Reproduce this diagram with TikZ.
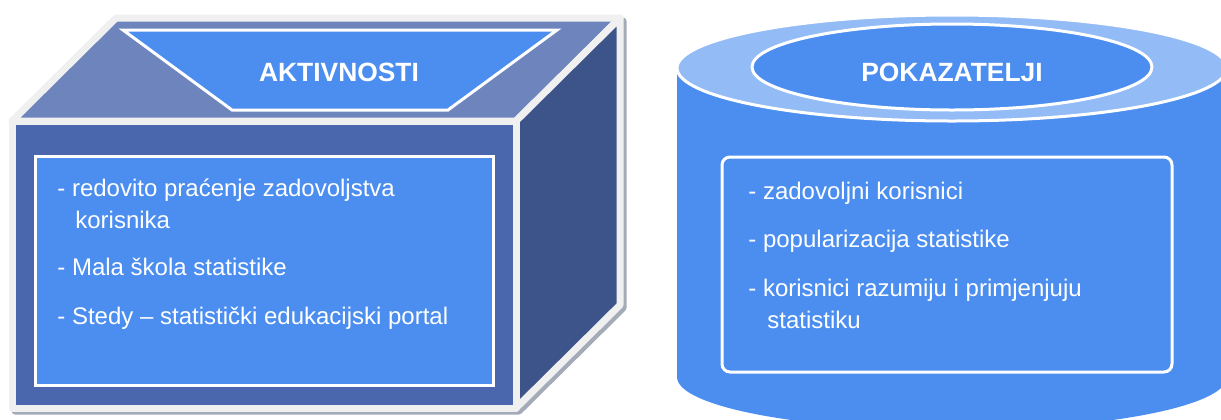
\documentclass[tikz,border=0pt]{standalone}
\usepackage{fontspec}
\setmainfont{Liberation Sans}
\usetikzlibrary{positioning}

\definecolor{boxfront}{HTML}{4A66AD}
\definecolor{boxtop}{HTML}{6E84BD}
\definecolor{boxside}{HTML}{3D548B}
\definecolor{itemblue}{HTML}{4B8EF0}
\definecolor{rim}{HTML}{F0F0F0}
\definecolor{boxshadow}{HTML}{A3AAB8}
\definecolor{drumtop}{HTML}{93BBF6}

\begin{document}
\begin{tikzpicture}[
    x=0.5pt, y=-0.5pt,
    % define styles
    face/.style={
        draw=rim,
        line width=3.5pt,
        line join=round
    },
    panel/.style={
        fill=itemblue,
        draw=white,
        line width=1.5pt
    },
    title/.style={
        text=white,
        inner sep=0pt,
        font=\fontsize{13.2}{15}\selectfont\bfseries
    },
    % multi-line items sit on the baseline of their last line
    item/.style={
        text=white,
        anchor=base west,
        align=left,
        inner sep=0pt,
        font=\fontsize{12}{16}\selectfont
    }
]
\useasboundingbox (0,0) rectangle (1221,419);
\clip (0,0) rectangle (1221,419);

% corners of the box
\coordinate (fl)  at (12,121);
\coordinate (fr)  at (516,121);
\coordinate (frb) at (516,408);
\coordinate (flb) at (12,408);
\coordinate (bl)  at (116,18);
\coordinate (br)  at (620,18);
\coordinate (brb) at (620,305);

% drop shadow under the box
\filldraw[fill=boxshadow, draw=boxshadow, line width=3.5pt, line join=round]
    ([shift={(3,3)}]fl) -- ([shift={(3,3)}]bl) -- ([shift={(3,3)}]br)
    -- ([shift={(3,3)}]brb) -- ([shift={(3,3)}]frb) -- ([shift={(3,3)}]flb) -- cycle;

% the three visible faces
\filldraw[face, fill=boxtop]   (fl) -- (fr) -- (br) -- (bl) -- cycle;
\filldraw[face, fill=boxside]  (fr) -- (br) -- (brb) -- (frb) -- cycle;
\filldraw[face, fill=boxfront] (fl) -- (fr) -- (frb) -- (flb) -- cycle;

% lid with heading
\filldraw[panel] (123,30) -- (557,30) -- (448,110) -- (232,110) -- cycle;
\node[title] (aktiv) at (339,72) {AKTIVNOSTI};

% list on the front face
\filldraw[panel] (35,156) rectangle (493,385);
\node[item] (act1) at (57,228) {- redovito praćenje zadovoljstva\\\hspace*{9pt}korisnika};
\node[item] (act2) at (57,275) {- Mala škola statistike};
\node[item] (act3) at (57,324) {- Stedy – statistički edukacijski portal};

% drum: body, bottom and top
\fill[itemblue] (677,68) rectangle (1227,377);
\fill[itemblue] (952,377) ellipse [x radius=275, y radius=53];
\filldraw[fill=drumtop, draw=white, line width=1.5pt] (952,68) ellipse [x radius=275, y radius=53];
\filldraw[panel] (952,67) ellipse [x radius=200, y radius=43];
\node[title] (pokaz) at (952,72) {POKAZATELJI};

% list on the drum
\filldraw[panel, rounded corners=4pt] (722,157) rectangle (1172,372);
\node[item] (pok1) at (748,199) {- zadovoljni korisnici};
\node[item] (pok2) at (748,247) {- popularizacija statistike};
\node[item] (pok3) at (748,328) {- korisnici razumiju i primjenjuju\\\hspace*{9.5pt}statistiku};
\end{tikzpicture}
\end{document}
